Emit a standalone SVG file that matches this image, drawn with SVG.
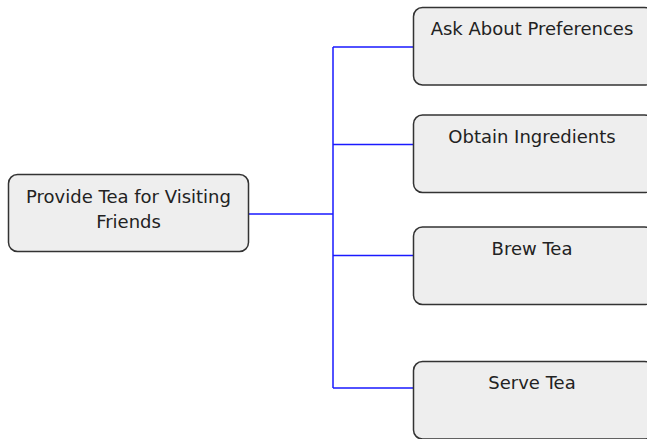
<svg xmlns="http://www.w3.org/2000/svg" width="647" height="439" viewBox="0 0 647 439">
<style>
.box{fill:#eeeeee;stroke:#333333;stroke-width:1.5}
.lbl{font-family:"DejaVu Sans",Verdana,sans-serif;font-size:18px;fill:#222222;text-anchor:middle}
.conn{fill:none;stroke:#1a1aff;stroke-width:1.5}
</style>
<rect width="647" height="439" fill="#ffffff"/>
<g id="connectors">
<path class="conn" d="M248.5,214 H333 M333,47 V388 M333,47 H413.5 M333,144.5 H413.5 M333,255.5 H413.5 M333,388 H413.5"/>
</g>
<g id="root">
<rect class="box" x="8.5" y="174.5" width="240" height="77" rx="9"/>
<text class="lbl" x="128.5" y="203">Provide Tea for Visiting</text>
<text class="lbl" x="128.5" y="228">Friends</text>
</g>
<g id="ask">
<rect class="box" x="413.5" y="7.5" width="240" height="77.5" rx="9"/>
<text class="lbl" x="532" y="35">Ask About Preferences</text>
</g>
<g id="obtain">
<rect class="box" x="413.5" y="115" width="240" height="77.5" rx="9"/>
<text class="lbl" x="532" y="143">Obtain Ingredients</text>
</g>
<g id="brew">
<rect class="box" x="413.5" y="227" width="240" height="77.5" rx="9"/>
<text class="lbl" x="532" y="255">Brew Tea</text>
</g>
<g id="serve">
<rect class="box" x="413.5" y="361.5" width="240" height="77.5" rx="9"/>
<text class="lbl" x="532" y="389">Serve Tea</text>
</g>
</svg>
